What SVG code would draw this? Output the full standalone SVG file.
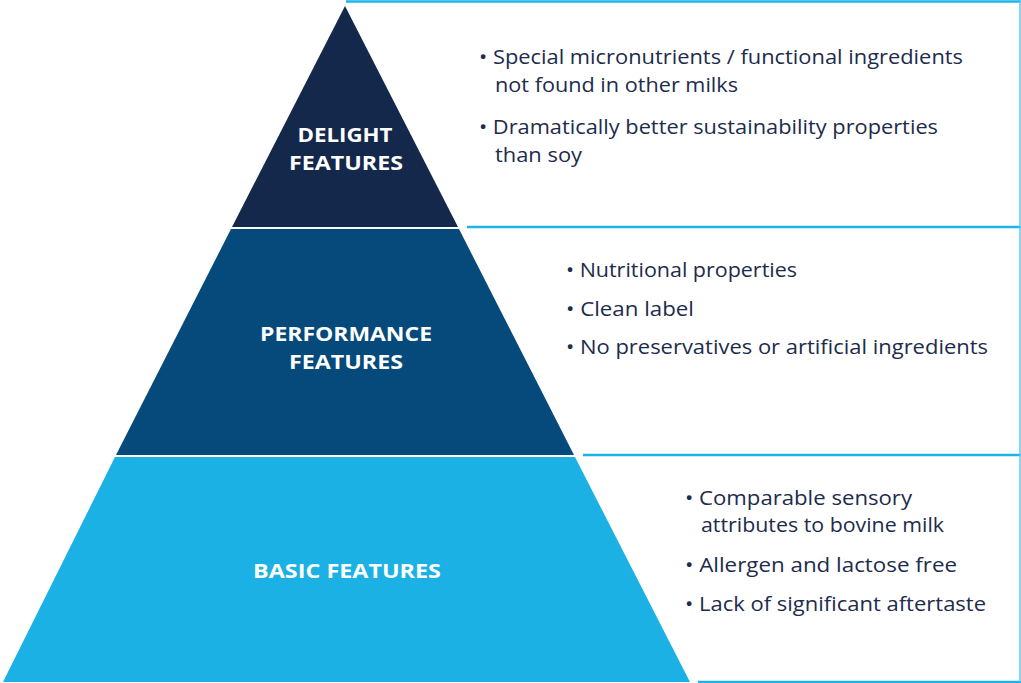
<svg xmlns="http://www.w3.org/2000/svg" width="1021" height="683" viewBox="0 0 1021 683">
<style>
.tier{font-family:"Open Sans","Liberation Sans",Arial,sans-serif;font-weight:bold;font-size:20px;fill:#ffffff;text-anchor:middle}
.txt{font-family:"Open Sans","Liberation Sans",Arial,sans-serif;font-size:20px;fill:#1d2b4c}
.ln{stroke:#1cb3e6;stroke-width:2.5;fill:none}
.vl{stroke:#5fc8ee;stroke-width:1.5;fill:none}
</style>
<rect width="1021" height="683" fill="#ffffff"/>
<g id="connectors">
<line class="ln" x1="346" y1="1.5" x2="1021" y2="1.5"/>
<line class="ln" x1="467" y1="227" x2="1021" y2="227"/>
<line class="ln" x1="583" y1="455" x2="1021" y2="455"/>
<line class="ln" x1="698" y1="682" x2="1021" y2="682"/>
<line class="vl" x1="1020" y1="1" x2="1020" y2="682"/>
</g>
<g id="delight">
<polygon points="345,6 458,227 232,227" fill="#13284b"/>
<text class="tier" x="345" y="142" textLength="95" lengthAdjust="spacingAndGlyphs">DELIGHT</text>
<text class="tier" x="346" y="170" textLength="114" lengthAdjust="spacingAndGlyphs">FEATURES</text>
</g>
<g id="performance">
<polygon points="231,229 459,229 574,455 116,455" fill="#064a7b"/>
<text class="tier" x="346" y="341" textLength="172" lengthAdjust="spacingAndGlyphs">PERFORMANCE</text>
<text class="tier" x="346" y="369" textLength="114" lengthAdjust="spacingAndGlyphs">FEATURES</text>
</g>
<g id="basic">
<polygon points="115,457 575,457 690,682 3,682" fill="#1bb1e4"/>
<text class="tier" x="347" y="578" textLength="188" lengthAdjust="spacingAndGlyphs">BASIC FEATURES</text>
</g>
<g id="delight-text">
<text class="txt" x="479" y="64" textLength="484" lengthAdjust="spacingAndGlyphs">• Special micronutrients / functional ingredients</text>
<text class="txt" x="495" y="92" textLength="243" lengthAdjust="spacingAndGlyphs">not found in other milks</text>
<text class="txt" x="479" y="134" textLength="459" lengthAdjust="spacingAndGlyphs">• Dramatically better sustainability properties</text>
<text class="txt" x="495" y="162" textLength="87" lengthAdjust="spacingAndGlyphs">than soy</text>
</g>
<g id="performance-text">
<text class="txt" x="566" y="277" textLength="231" lengthAdjust="spacingAndGlyphs">• Nutritional properties</text>
<text class="txt" x="566" y="316" textLength="128" lengthAdjust="spacingAndGlyphs">• Clean label</text>
<text class="txt" x="566" y="354" textLength="422" lengthAdjust="spacingAndGlyphs">• No preservatives or artificial ingredients</text>
</g>
<g id="basic-text">
<text class="txt" x="685" y="505" textLength="227" lengthAdjust="spacingAndGlyphs">• Comparable sensory</text>
<text class="txt" x="701" y="532" textLength="243" lengthAdjust="spacingAndGlyphs">attributes to bovine milk</text>
<text class="txt" x="685" y="572" textLength="272" lengthAdjust="spacingAndGlyphs">• Allergen and lactose free</text>
<text class="txt" x="685" y="611" textLength="301" lengthAdjust="spacingAndGlyphs">• Lack of significant aftertaste</text>
</g>
</svg>
